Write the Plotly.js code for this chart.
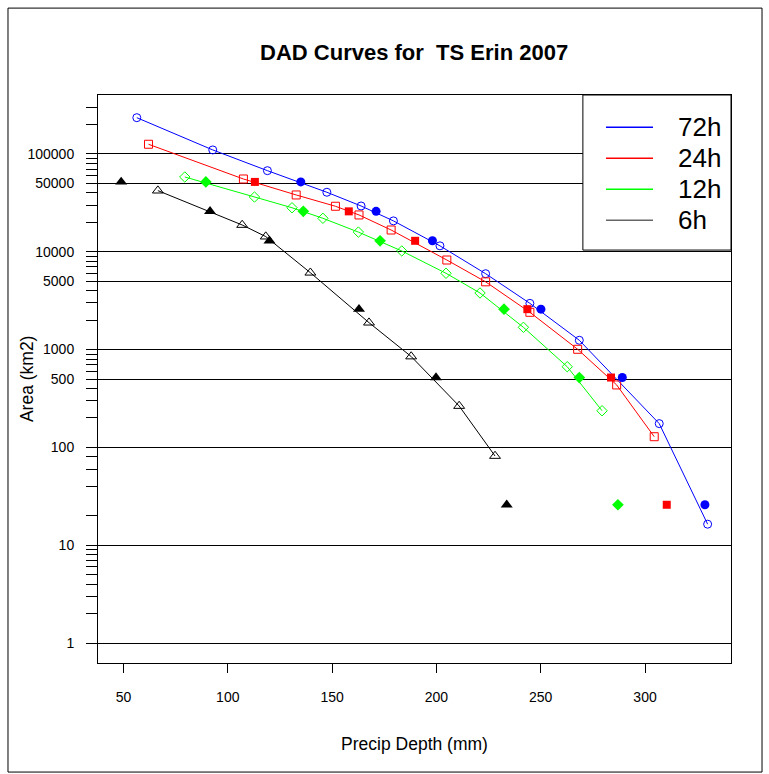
<!DOCTYPE html>
<html>
<head>
<meta charset="utf-8">
<script src="https://cdn.plot.ly/plotly-3.0.1.min.js"></script>
<style>html,body{margin:0;padding:0;background:#fff;}#chart{width:769px;height:774px;}</style>
</head>
<body>
<div id="chart"></div>
<script>
// ---- data ----
const seriesNames = ["72h", "24h", "12h", "6h"];
const seriesColors = ["#0000ff", "#ff0000", "#00ff00", "#000000"];
const legendLineColors = ["#0000ff", "#ff0000", "#00ff00", "#666666"];

// DAD curve points (open markers, connected)
const depth72 = [56.4, 92.8, 119.0, 147.5, 163.9, 179.4, 201.7, 223.6, 244.8, 268.5, 306.8, 330.0];
const area72  = [235000, 110000, 67500, 40600, 29400, 20700, 11500, 5970, 2970, 1245, 175, 16.4];
const depth24 = [62.0, 107.5, 132.8, 151.6, 162.9, 178.3, 205.0, 223.6, 244.8, 267.7, 286.4, 304.4];
const area24  = [125700, 55500, 38100, 29200, 23800, 16700, 8240, 4930, 2405, 1007, 435, 128.6];
const depth12 = [79.4, 112.8, 130.8, 145.6, 162.6, 183.4, 204.6, 220.9, 241.7, 262.7, 279.4];
const area12  = [58200, 36300, 28200, 22000, 15900, 10200, 6030, 3790, 1690, 668, 237];
const depth6  = [66.5, 106.9, 118.2, 139.6, 167.7, 187.9, 210.9, 228.1];
const area6   = [42200, 18800, 14300, 6110, 1885, 850, 265, 81.7];

// standard-area points (filled markers)
const stdArea   = [51800, 25900, 12950, 2590, 518, 25.9];
const stdDepth72 = [135.0, 171.1, 198.1, 250.1, 289.1, 328.7];
const stdDepth24 = [113.0, 158.0, 189.8, 243.6, 283.7, 310.4];
const stdDepth12 = [89.5, 136.2, 173.0, 232.4, 268.5, 287.0];
const stdDepth6  = [48.9, 91.5, 120.0, 162.9, 199.8, 233.7];

// axis ticks
const xTicks = [50, 100, 150, 200, 250, 300];
const yTicks = [1, 10, 100, 500, 1000, 5000, 10000, 50000, 100000];
const yTickText = ["1", "10", "100", "500", "1000", "5000", "10000", "50000", "100000"];
const yMinorTicks = [2,3,4,5,6,7,8,9, 20,40,60,80, 200,300,400,600,700,800,900,
  2000,3000,4000,6000,7000,8000,9000, 20000,30000,40000,60000,70000,80000,90000, 200000,300000];

const curveX = [depth72, depth24, depth12, depth6];
const curveY = [area72, area24, area12, area6];
const stdX = [stdDepth72, stdDepth24, stdDepth12, stdDepth6];
const openSymbols = ["circle-open", "square-open", "diamond-open", "triangle-up-open"];
const fillSymbols = ["circle", "square", "diamond", "triangle-up"];
const openSizes = [8, 8, 8, 9.5];
const fillSizes = [9, 8, 9, 10.5];

const FONT = "Liberation Sans, Arial, Helvetica, sans-serif";

const traces = [];
for (let i = 0; i < 4; i++) {
  traces.push({
    x: curveX[i], y: curveY[i], type: "scatter", mode: "lines+markers",
    name: seriesNames[i], showlegend: false,
    line: {color: seriesColors[i], width: 1},
    marker: {symbol: openSymbols[i], size: openSizes[i], color: seriesColors[i], line: {width: 1, color: seriesColors[i]}}
  });
}
for (let i = 0; i < 4; i++) {
  traces.push({
    x: stdX[i], y: stdArea, type: "scatter", mode: "markers",
    name: seriesNames[i] + " std", showlegend: false,
    marker: {symbol: fillSymbols[i], size: fillSizes[i], color: seriesColors[i], line: {width: 0}}
  });
}

// legend drawn as shapes + annotations (box in top-right corner of the plot)
const shapes = [];
const annotations = [];
// outer frame
shapes.push({type: "rect", xref: "paper", yref: "paper", x0: -0.1422, x1: 1.049, y0: -0.192, y1: 1.153,
  line: {color: "#000", width: 1}, fillcolor: "rgba(0,0,0,0)", layer: "above"});
shapes.push({type: "rect", xref: "paper", yref: "paper", x0: 0.766, x1: 1, y0: 0.727, y1: 1,
  line: {color: "#000", width: 1}, fillcolor: "#ffffff", layer: "above"});
for (let i = 0; i < 4; i++) {
  const yy = 0.9431 - i * 0.0546;
  shapes.push({type: "line", xref: "paper", yref: "paper", x0: 0.8025, x1: 0.8768, y0: yy, y1: yy,
    line: {color: legendLineColors[i], width: 1.5}, layer: "above"});
  annotations.push({xref: "paper", yref: "paper", x: 0.913, y: yy, xanchor: "left", yanchor: "middle",
    text: seriesNames[i], showarrow: false, font: {family: FONT, size: 26, color: "#000"}});
}
annotations.push({xref: "paper", yref: "paper", x: -0.112, y: 0.5, xanchor: "center", yanchor: "middle",
  text: "Area (km2)", textangle: -90, showarrow: false, font: {family: FONT, size: 17.5, color: "#000"}});

const layout = {
  width: 769, height: 774,
  margin: {l: 98, r: 38, t: 95, b: 111, autoexpand: false},
  paper_bgcolor: "#ffffff", plot_bgcolor: "#ffffff",
  font: {family: FONT, color: "#000"},
  showlegend: false,
  title: {text: "<b>DAD Curves for \u00a0TS Erin 2007</b>", x: 0.5385, xanchor: "center", xref: "container",
    y: 1 - 52 / 774, yref: "container", yanchor: "middle", font: {family: FONT, size: 22, color: "#000"}},
  xaxis: {
    type: "linear", range: [37.8, 341.2], autorange: false,
    tickmode: "array", tickvals: xTicks, ticks: "outside", ticklen: 9, tickwidth: 1, tickcolor: "#000",
    ticklabelstandoff: 12,
    showgrid: false, zeroline: false, showline: true, mirror: true, linecolor: "#000", linewidth: 1,
    tickfont: {family: FONT, size: 14, color: "#000"},
    title: {text: "Precip Depth (mm)", font: {family: FONT, size: 17.5, color: "#000"}, standoff: 33},
    automargin: false
  },
  yaxis: {
    type: "log", range: [-0.2045, 5.603], autorange: false,
    tickmode: "array", tickvals: yTicks, ticktext: yTickText, ticks: "outside", ticklen: 11, tickwidth: 1, tickcolor: "#000",
    ticklabelstandoff: 9,
    showgrid: true, gridcolor: "#000", gridwidth: 1,
    minor: {tickmode: "array", tickvals: yMinorTicks, ticks: "outside", ticklen: 11, tickwidth: 1, tickcolor: "#000", showgrid: false},
    zeroline: false, showline: true, mirror: true, linecolor: "#000", linewidth: 1,
    tickfont: {family: FONT, size: 14, color: "#000"},
    automargin: false
  },
  shapes: shapes,
  annotations: annotations
};

Plotly.newPlot("chart", traces, layout, {displayModeBar: false, staticPlot: true});
</script>
</body>
</html>
